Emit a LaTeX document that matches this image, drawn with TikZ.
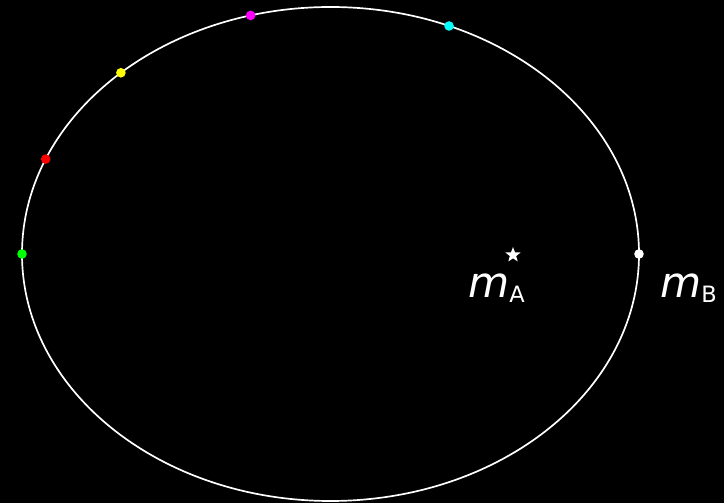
\documentclass[tikz,border=0pt]{standalone}
\usepackage{fontspec}
\setmainfont{DejaVu Sans}
\usepackage{tikz}
\usetikzlibrary{shapes.geometric}
\definecolor{dotgreen}{RGB}{0,255,0}
\definecolor{dotred}{RGB}{255,0,0}
\definecolor{dotyellow}{RGB}{255,255,0}
\definecolor{dotmagenta}{RGB}{255,0,255}
\definecolor{dotcyan}{RGB}{0,255,255}
\newcommand{\masslabel}[1]{{\fontsize{30}{30}\selectfont\itshape m}\raisebox{-3pt}{\fontsize{16}{16}\selectfont #1}}

\begin{document}
\begin{tikzpicture}[x=0.025cm,y=-0.025cm,
    orbit/.style={draw=white,line width=1.2pt},
    orbitdot/.style={circle,inner sep=0pt,minimum size=0.24cm},
    labeltext/.style={text=white,inner sep=0pt,anchor=base west}]
  \fill[black] (0,0) rectangle (724,503);
  \useasboundingbox (0,0) rectangle (724,503);
  \draw[orbit] (330.5,254) ellipse [x radius=308.5,y radius=247];
  \foreach \ang/\col/\nm in {180/dotgreen/pgreen,157.4/dotred/pred,132.8/dotyellow/pyellow,105/dotmagenta/pmagenta,67.4/dotcyan/pcyan,0/white/pwhite}
    \node[orbitdot,fill=\col] (\nm) at ({330.5+308.5*cos(\ang)},{254-247*sin(\ang)}) {};
  \node[star,star points=5,star point ratio=2.4,fill=white,inner sep=0pt,minimum size=0.4cm] (sun) at (513,255) {};
  \node[labeltext] (labA) at (468,298) {\masslabel{A}};
  \node[labeltext] (labB) at (660,298) {\masslabel{B}};
\end{tikzpicture}
\end{document}
